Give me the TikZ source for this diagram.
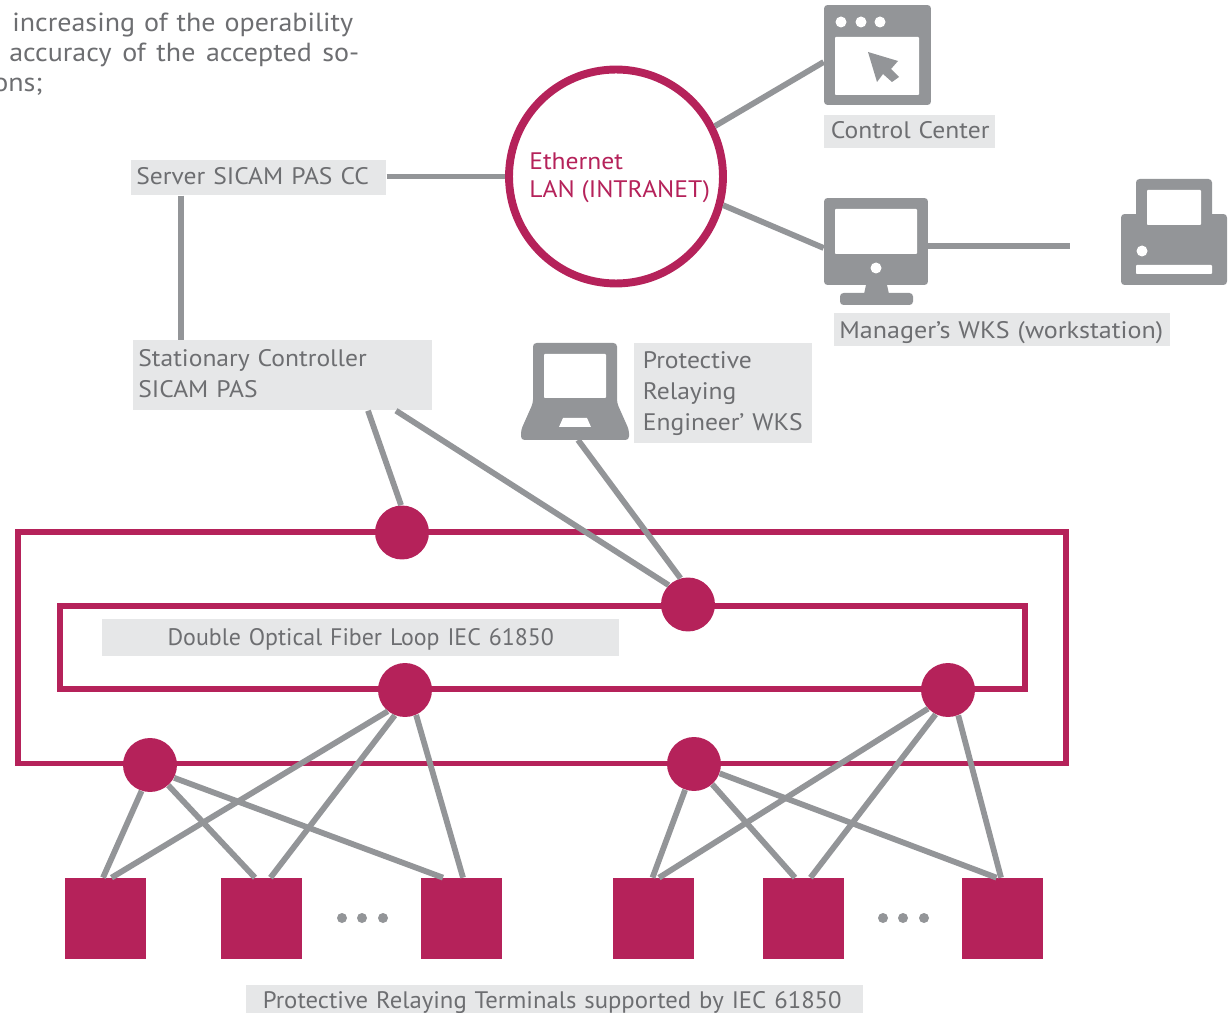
\documentclass[tikz,border=0pt]{standalone}
\usepackage{fontspec}
\setmainfont{PT Sans}[FakeStretch=1.07]
\newfontfamily\plainfont{PT Sans}
\newfontfamily\midfont{PT Sans}[FakeStretch=1.035]
\newfontfamily\wideFont{PT Sans}[FakeStretch=1.09]
\usepackage{xcolor}
\definecolor{wine}{HTML}{B5225A}
\definecolor{iconGrey}{HTML}{939598}
\definecolor{boxGrey}{HTML}{E6E7E8}
\definecolor{textGrey}{HTML}{6D6E71}
\newcommand{\nudge}[2]{\raisebox{#1}[\height][\depth]{#2}}
\tikzset{
  link/.style={line width=3.3pt, draw=iconGrey},
  loop/.style={line width=3pt, draw=wine},
  junction/.style={circle, fill=wine, inner sep=0pt, minimum size=1.08cm},
  terminal/.style={rectangle, fill=wine, inner sep=0pt, minimum size=1.62cm},
  tag/.style={rectangle, fill=boxGrey, text=textGrey, inner ysep=0pt, align=left, anchor=north west, font=\fontsize{13.6}{17.4}\selectfont},
  para/.style={anchor=base west, inner sep=0pt, text=textGrey, font=\fontsize{14.9}{17}\selectfont},
  ringtext/.style={anchor=base west, inner sep=0pt, text=wine, font=\fontsize{13.6}{17}\selectfont},
  icon/.style={rectangle, fill=iconGrey, rounded corners=2pt, inner sep=0pt},
  hole/.style={fill=white, rounded corners=0.5pt},
  dot/.style={fill=iconGrey}
}
\begin{document}
\begin{tikzpicture}[x=0.02cm, y=-0.02cm]
\useasboundingbox (0,0) rectangle (1228,1013);
\clip (0,0) rectangle (1228,1013);

% Paragraph cut by the page
\node[para] (parA) at (12,32) {\makebox[6.82cm][s]{increasing of the operability}};
\node[para] (parB) at (9,62) {\makebox[7cm][s]{accuracy of the accepted so-}};
\node[para] (parC) at (-7,92) {ons;};

% Fiber loops
\draw[loop] (18,532) rectangle (1066,763.5);
\draw[loop] (60,606) rectangle (1025,689);

% Labels
\node[tag, minimum width=5.1cm, minimum height=0.7cm, text width=4.9cm, inner xsep=0.1cm] (server) at (131,160) {\nudge{0.04cm}{Server SICAM PAS CC}};
\node[tag, minimum width=5.98cm, minimum height=1.4cm, text width=5.78cm, inner xsep=0.1cm] (controller) at (133,340) {\nudge{0.03cm}{Stationary Controller}\\\nudge{0.03cm}{SICAM PAS}};
\node[tag, minimum width=3.56cm, minimum height=2cm, text width=3.22cm, inner xsep=0.17cm, font=\fontsize{13.6}{17.6}\selectfont] (engineer) at (634,343) {Protective\\Relaying\\\mbox{Engineer’ WKS}};
\node[tag, minimum width=3.42cm, minimum height=0.66cm, text width=3.16cm, inner xsep=0.13cm] (center) at (824,115) {\nudge{0.04cm}{Control Center}};
\node[tag, minimum width=6.72cm, minimum height=0.66cm, text width=6.52cm, inner xsep=0.1cm] (manager) at (834,313) {\nudge{-0.06cm}{\wideFont Manager’s WKS (workstation)}};
\node[tag, minimum width=10.34cm, minimum height=0.74cm, align=center, text width=10.34cm, inner xsep=0pt] (loopname) at (102,619) {\nudge{-0.04cm}{\plainfont Double Optical Fiber Loop IEC 61850}};
\node[tag, minimum width=12.34cm, minimum height=0.66cm, align=center, text width=12.34cm, inner xsep=0pt] (terminals) at (246,985) {\nudge{-0.02cm}{\midfont Protective Relaying Terminals supported by IEC 61850}\hspace*{0.1cm}};

% Ethernet ring
\node[circle, draw=wine, line width=4.5pt, inner sep=0pt, minimum size=4.28cm] (ring) at (616,176.5) {};
\node[ringtext] (ethernet) at (529,170) {Ethernet};
\node[ringtext] (lan) at (529,198) {LAN (INTRANET)};

% Control Center window
\node[icon, minimum width=2.14cm, minimum height=2cm] (window) at (877.5,55) {};
\fill[hole] (835,37) rectangle (919,95);
\fill[white] (841,22) circle (5.5) (861,22) circle (5.5) (880,22) circle (5.5);
\fill[dot] (868,52) -- (898,61) -- (891,69) -- (899,77) -- (892,82) -- (883,74) -- (877,82) -- cycle;

% Manager monitor
\node[icon, minimum width=2.08cm, minimum height=1.74cm] (monitor) at (876,241.5) {};
\fill[hole] (835,209) rectangle (917,254);
\fill[white] (876,268) circle (5.5);
\fill[dot] (866,285) -- (887,285) -- (889,294) -- (864,294) -- cycle;
\fill[dot, rounded corners=2pt] (840,293) rectangle (913,305);

% Printer
\fill[dot, rounded corners=2pt] (1136,179) rectangle (1212,225);
\node[icon, minimum width=2.12cm, minimum height=1.42cm] (printer) at (1174,249.5) {};
\fill[hole] (1147,190) rectangle (1201,225);
\fill[white] (1142,251) circle (5.5);
\fill[hole] (1136,265) rectangle (1212,274);
\coordinate (printerEnd) at (1070,246);

% Laptop
\fill[dot, rounded corners=2pt] (533,343) -- (617,343) -- (617,403) -- (629,430) -- (629,440) -- (521,440) -- (521,430) -- (533,403) -- cycle;
\coordinate (laptop) at (578,440);
\fill[hole] (544,354) rectangle (606,398);
\fill[white] (563,418) -- (587,418) -- (591,427) -- (559,427) -- cycle;

% Junctions
\node[junction] (jTop) at (402,532.5) {};
\node[junction] (jMid) at (688,604.5) {};
\node[junction] (jInL) at (405,690) {};
\node[junction] (jInR) at (948,690) {};
\node[junction] (jOutL) at (150,765) {};
\node[junction] (jOutR) at (694,764) {};

% Terminals
\node[terminal] (t1) at (105.5,918.5) {};
\node[terminal] (t2) at (261.5,918.5) {};
\node[terminal] (t3) at (461.5,918.5) {};
\node[terminal] (t4) at (653.5,918.5) {};
\node[terminal] (t5) at (803.5,918.5) {};
\node[terminal] (t6) at (1002.5,918.5) {};
\fill[dot] (342,918) circle (5) (362,918) circle (5) (383,918) circle (5);
\fill[dot] (883,918) circle (5) (903,918) circle (5) (924,918) circle (5);

% Upper links
\draw[link] (ring.27) -- (window.west |- 0,62);
\draw[link] (ring.-15) -- (monitor.west |- 0,248);
\draw[link] (monitor.east |- 0,246) -- (printerEnd);
\draw[link] (server.east |- ring) -- (ring);
\draw[link] (server.south -| 181,0) -- (controller.north -| 181,0);
\draw[link] (controller.south -| 368,0) -- (jTop.92);
\draw[link] (controller.south -| 396,0) -- (jMid.135);
\draw[link] (laptop) -- (jMid.106);

% Lower links
\draw[link] (jOutL.252) -- ([xshift=-0.05cm]t1.north);
\draw[link] (jOutL.312) -- ([xshift=-0.13cm]t2.north);
\draw[link] (jOutL.332) -- ([xshift=-0.37cm]t3.north);
\draw[link] (jInL.231) -- ([xshift=0.12cm]t1.north);
\draw[link] (jInL.248) -- ([xshift=0.18cm]t2.north);
\draw[link] (jInL.294) -- ([xshift=0.03cm]t3.north);
\draw[link] (jOutR.251) -- ([xshift=-0.02cm]t4.north);
\draw[link] (jOutR.312) -- ([xshift=-0.17cm]t5.north);
\draw[link] (jOutR.340) -- ([xshift=-0.12cm]t6.north);
\draw[link] (jInR.223) -- ([xshift=0.11cm]t4.north);
\draw[link] (jInR.243) -- ([xshift=0.14cm]t5.north);
\draw[link] (jInR.292) -- ([xshift=-0.03cm]t6.north);
\end{tikzpicture}
\end{document}
